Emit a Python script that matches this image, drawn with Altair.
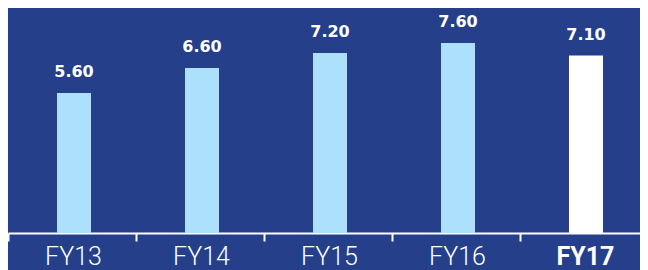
import altair as alt
import pandas as pd

years = ["FY13", "FY14", "FY15", "FY16", "FY17"]
values = [5.60, 6.60, 7.20, 7.60, 7.10]
labels = ["5.60", "6.60", "7.20", "7.60", "7.10"]
highlight = ["no", "no", "no", "no", "yes"]

df = pd.DataFrame({"year": years, "value": values, "label": labels, "hl": highlight})

BG = "#253F8B"

x = alt.X(
    "year:N",
    sort=years,
    title=None,
    scale=alt.Scale(paddingInner=0, paddingOuter=0),
    axis=alt.Axis(
        domainColor="white",
        domainWidth=2,
        tickColor="white",
        tickWidth=2,
        tickSize=8,
        tickBand="extent",
        labelAngle=0,
        labelColor="white",
        labelFont="Roboto",
        labelFontSize=25,
        labelFontWeight={"condition": {"test": "datum.value == 'FY17'", "value": "bold"}, "value": 300},
        labelPadding=3,
        labelOffset=1,
        labelBaseline="top",
        grid=False,
    ),
)
y = alt.Y("value:Q", scale=alt.Scale(domain=[0, 9]), axis=None)

bars = alt.Chart(df).mark_bar(size=34, xOffset=2).encode(
    x=x,
    y=y,
    color=alt.Color("hl:N", scale=alt.Scale(domain=["no", "yes"], range=["#ADE1FB", "#FFFFFF"]), legend=None),
)

text = alt.Chart(df).mark_text(
    dy=-16, dx=2, baseline="alphabetic", color="white", font="DejaVu Sans", fontSize=16, fontWeight="bold"
).encode(x=x, y=y, text="label:N")

chart = (
    alt.layer(bars, text)
    .properties(
        width=640,
        height=225,
        padding={"left": 0, "top": 0, "right": -8, "bottom": 37},
        background=BG,
        autosize=alt.AutoSizeParams(type="none"),
    )
    .configure_view(stroke=None)
)

chart.save("out.html", embed_options={"renderer": "svg", "actions": False})
